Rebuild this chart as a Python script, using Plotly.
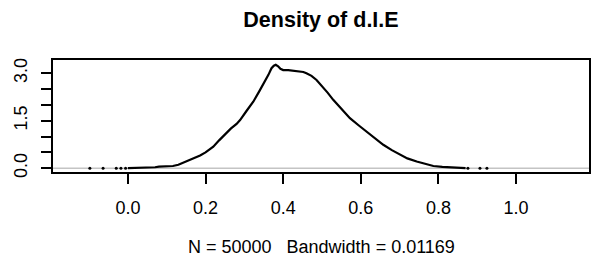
import plotly.graph_objects as go

# density curve
dens_x = [0.0, 0.05, 0.07, 0.08, 0.10, 0.116, 0.13, 0.15, 0.17, 0.186, 0.20, 0.22, 0.235, 0.25,
          0.265, 0.28, 0.289, 0.305, 0.323, 0.338, 0.353, 0.362, 0.370, 0.376, 0.381, 0.387,
          0.393, 0.40, 0.413, 0.426, 0.44, 0.452, 0.46, 0.473, 0.486, 0.50, 0.515, 0.529, 0.55,
          0.572, 0.595, 0.615, 0.636, 0.658, 0.68, 0.701, 0.72, 0.744, 0.765, 0.787, 0.81,
          0.83, 0.85, 0.87]
dens_y = [0.0, 0.01, 0.03, 0.05, 0.06, 0.07, 0.11, 0.21, 0.30, 0.40, 0.50, 0.68, 0.88, 1.08,
          1.25, 1.40, 1.52, 1.80, 2.10, 2.42, 2.73, 2.95, 3.16, 3.24, 3.27, 3.22,
          3.14, 3.10, 3.10, 3.08, 3.06, 3.04, 3.00, 2.92, 2.79, 2.60, 2.38, 2.16, 1.87,
          1.58, 1.35, 1.16, 0.95, 0.74, 0.57, 0.42, 0.31, 0.21, 0.13, 0.07, 0.04,
          0.02, 0.01, 0.0]
# near-zero tail fragments
tail_x = [-0.098, -0.064, -0.03, -0.018, -0.006, 0.876, 0.907, 0.925]
tail_y = [0, 0, 0, 0, 0, 0, 0, 0]

x_ticks = [0.0, 0.2, 0.4, 0.6, 0.8, 1.0]
x_labels = ["0.0", "0.2", "0.4", "0.6", "0.8", "1.0"]
y_ticks = [0.0, 0.5, 1.0, 1.5, 2.0, 2.5, 3.0]
y_labels = ["0.0", "", "", "1.5", "", "", "3.0"]

title_text = "Density of d.I.E"
xlab_text = "N = 50000&nbsp;&nbsp;&nbsp;Bandwidth = 0.01169"

font = "Liberation Sans, Arial, sans-serif"

fig = go.Figure()
fig.add_trace(go.Scatter(x=dens_x, y=dens_y, mode="lines",
                         line=dict(color="black", width=2.2), showlegend=False))
fig.add_trace(go.Scatter(x=tail_x, y=tail_y, mode="markers",
                         marker=dict(color="black", size=3), showlegend=False))

fig.add_shape(type="line", xref="paper", yref="y", x0=0, x1=1, y0=0, y1=0,
              line=dict(color="#c4c4c4", width=1.5), layer="below")

fig.add_annotation(text=xlab_text, xref="paper", yref="paper", x=0.5, y=-0.67,
                   xanchor="center", yanchor="middle", showarrow=False,
                   font=dict(size=18, family=font, color="black"))

fig.update_layout(
    width=596, height=264,
    margin=dict(l=53, r=7, t=60, b=92),
    paper_bgcolor="white", plot_bgcolor="white",
    font=dict(family=font, color="black"),
    title=dict(text="<b>" + title_text + "</b>", x=0.5, xref="paper", xanchor="center",
               y=0.925, yref="container", yanchor="middle",
               font=dict(size=21.5, family=font, color="black")),
    xaxis=dict(range=[-0.193, 1.188], tickvals=x_ticks, ticktext=x_labels,
               ticks="outside", ticklen=10, tickwidth=1.5, tickcolor="black",
               showline=True, mirror=True, linecolor="black", linewidth=1.5,
               showgrid=False, zeroline=False, tickfont=dict(size=18),
               ticklabelstandoff=9, automargin=False),
    yaxis=dict(range=[-0.12, 3.42], tickvals=y_ticks, ticktext=y_labels,
               ticks="outside", ticklen=10, tickwidth=1.5, tickcolor="black",
               showline=True, mirror=True, linecolor="black", linewidth=1.5,
               showgrid=False, zeroline=False, tickfont=dict(size=18),
               tickangle=-90, ticklabelstandoff=7, automargin=False),
)

fig.write_html("out.html", config={"displayModeBar": False},
               post_script="document.body.style.margin='0px';")
